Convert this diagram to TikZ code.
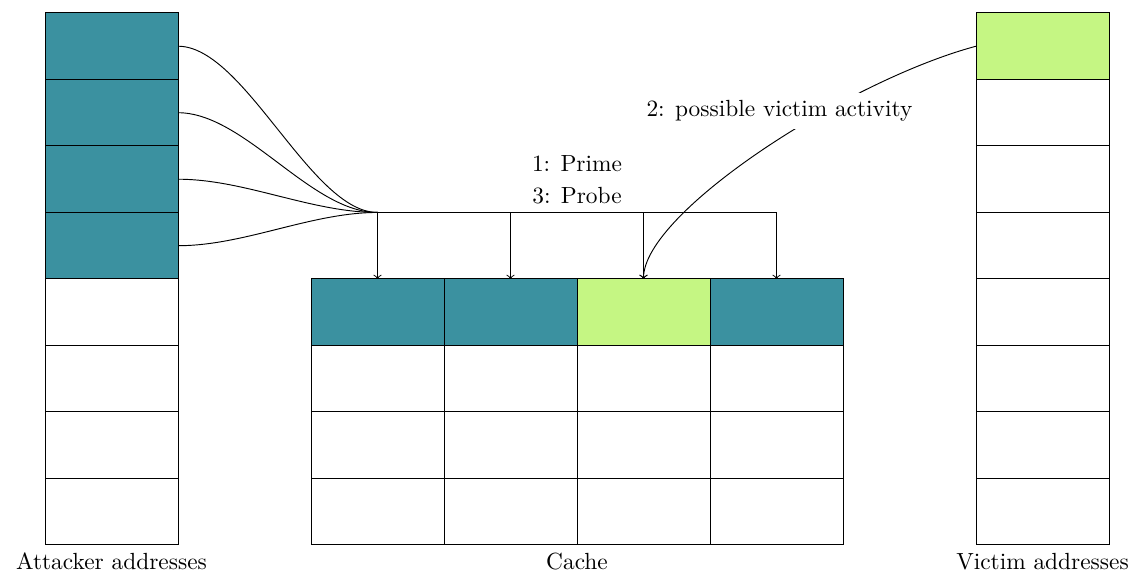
\documentclass[tikz,border=0pt]{standalone}
\usetikzlibrary{positioning}
\definecolor{attack}{HTML}{3B91A0}
\definecolor{victim}{HTML}{C5F683}
\tikzset{
  cell/.style={draw, minimum width=2cm, minimum height=1cm, inner sep=0pt, outer sep=0pt},
}
\begin{document}
\begin{tikzpicture}
	\useasboundingbox (-0.677,-0.466) rectangle (16.451,8.195);
	% address columns
	\foreach \i in {1,...,8} {
		\ifnum\i<5
			\node[cell, fill=attack] (a\i) at (1, 8.5-\i) {};
		\else
			\node[cell] (a\i) at (1, 8.5-\i) {};
		\fi
		\ifnum\i=1
			\node[cell, fill=victim] (v\i) at (15, 8.5-\i) {};
		\else
			\node[cell] (v\i) at (15, 8.5-\i) {};
		\fi
	}
	% cache sets
	\foreach \c/\col in {1/attack, 2/attack, 3/victim, 4/attack}
		\node[cell, fill=\col] (c\c) at (3+2*\c, 3.5) {};
	\foreach \r in {2,3,4}
		\foreach \c in {1,...,4}
			\node[cell] (c\c\r) at (3+2*\c, 4.5-\r) {};
	\node[below] (alabel) at (a8.south) {Attacker addresses};
	\node[below] (vlabel) at (v8.south) {Victim addresses};
	\node[below] (clabel) at (c24.south east) {Cache};

	\foreach \c in {1,...,4}
		\coordinate[above=1cm of c\c] (t\c);
	\draw (t1) -- (t4);
	\foreach \c in {1,...,4}
		\draw[->] (t\c) -- (c\c);
	\foreach \i in {1,...,4}
		\draw (a\i.east) .. controls +(1,0) and +(-1,0) .. (t1);
	\node[fill=white, align=center, anchor=south] (prime) at (8,5) {1: Prime\\[1.7pt]3: Probe};

	\draw[->] (v1.west) .. controls +(195:2) and +(90:1) .. (c3.north)
		node[pos=0.35, fill=white, xshift=-0.69cm] (act) {2: possible victim activity};
\end{tikzpicture}
\end{document}
